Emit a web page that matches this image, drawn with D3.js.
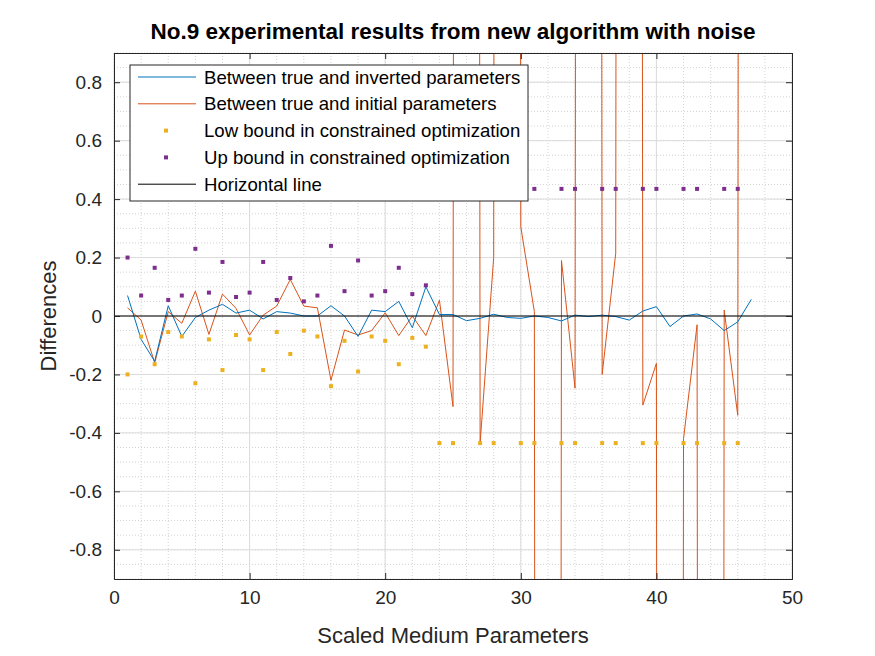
<!DOCTYPE html>
<html><head><meta charset="utf-8">
<script src="https://cdn.jsdelivr.net/npm/d3@7"></script>
<style>body{margin:0;background:#fff}svg{font-family:"Liberation Sans",Arial,sans-serif}</style>
</head><body><svg width="875" height="656"></svg>
<script>
// values
var idx = d3.range(1, 48);
var inverted = [0.07,-0.08,-0.155,0.035,-0.07,-0.005,0.02,0.04,0.01,0.02,-0.01,0.015,0.01,0.0,0.0,0.035,0.0,-0.07,0.02,0.015,0.05,-0.04,0.1,
  0.005,0.005,-0.016,-0.008,0.006,-0.005,-0.008,0.0,-0.005,-0.017,0.003,-0.002,0.003,-0.002,-0.014,0.017,0.032,-0.036,0.0,0.007,-0.01,-0.05,-0.02,0.057];
var initial = [0.028,-0.014,-0.16,0.015,-0.025,0.085,-0.063,0.075,0.026,-0.065,0.003,0.034,0.125,0.034,0.028,-0.22,-0.048,-0.065,-0.05,0.011,-0.067,0.0,-0.067,
  0.054,-0.31,40,-0.435,0.2,40,0.305,0.015,-40,0.19,-0.247,40,-0.2,0.215,40,-0.305,-0.162,-40,-0.42,-0.03,-40,0.02,-0.34,40];
var boundIdx = d3.range(1, 24).concat([24,25,27,28,30,31,33,34,36,37,39,40,42,43,45,46]);
var upBound = [0.2,0.07,0.165,0.055,0.07,0.23,0.08,0.185,0.065,0.08,0.185,0.055,0.13,0.05,0.07,0.24,0.085,0.19,0.07,0.085,0.165,0.075,0.105,
  0.435,0.435,0.435,0.435,0.435,0.435,0.435,0.435,0.435,0.435,0.435,0.435,0.435,0.435,0.435,0.435];
var lowBound = upBound.map(function(v){ return -v; });
var xTicks = [0,10,20,30,40,50];
var yTicks = [-0.8,-0.6,-0.4,-0.2,0,0.2,0.4,0.6,0.8];
var legendLabels = ["Between true and inverted parameters","Between true and initial parameters",
  "Low bound in constrained optimization","Up bound in constrained optimization","Horizontal line"];
var colors = ["#0072BD","#D95319","#EDB120","#7E2F8E","#000000"];

var svg = d3.select("svg");
var L = 114, R = 792, T = 53, B = 579;
var x = d3.scaleLinear().domain([0,50]).range([L,R]);
var y = d3.scaleLinear().domain([-0.9,0.9]).range([B,T]);

// grid
var g = svg.append("g");
g.selectAll(".mx").data(d3.range(0,51,2)).enter().append("line")
  .attr("x1",x).attr("x2",x).attr("y1",T).attr("y2",B)
  .attr("stroke","#c8c8c8").attr("stroke-dasharray","1,2").attr("stroke-width",0.8);
g.selectAll(".my").data(d3.range(-18,19).map(function(i){return i*0.05;})).enter().append("line")
  .attr("y1",y).attr("y2",y).attr("x1",L).attr("x2",R)
  .attr("stroke","#c8c8c8").attr("stroke-dasharray","1,2").attr("stroke-width",0.8);
g.selectAll(".gx").data(xTicks).enter().append("line")
  .attr("x1",x).attr("x2",x).attr("y1",T).attr("y2",B).attr("stroke","#dcdcdc");
g.selectAll(".gy").data(yTicks).enter().append("line")
  .attr("y1",y).attr("y2",y).attr("x1",L).attr("x2",R).attr("stroke","#dcdcdc");

svg.append("clipPath").attr("id","clip").append("rect")
  .attr("x",L).attr("y",T).attr("width",R-L).attr("height",B-T);
var plot = svg.append("g").attr("clip-path","url(#clip)");

var line = d3.line().x(function(d){return x(d[0]);}).y(function(d){return y(d[1]);});
plot.append("path").datum(idx.map(function(d,i){return [d,initial[i]];}))
  .attr("d",line).attr("fill","none").attr("stroke",colors[1]).attr("stroke-width",1);
plot.append("path").datum(idx.map(function(d,i){return [d,inverted[i]];}))
  .attr("d",line).attr("fill","none").attr("stroke",colors[0]).attr("stroke-width",1);
plot.selectAll(".lo").data(boundIdx).enter().append("rect")
  .attr("x",function(d){return x(d)-2;}).attr("y",function(d,i){return y(lowBound[i])-2;})
  .attr("width",4).attr("height",4).attr("fill",colors[2]);
plot.selectAll(".up").data(boundIdx).enter().append("rect")
  .attr("x",function(d){return x(d)-2;}).attr("y",function(d,i){return y(upBound[i])-2;})
  .attr("width",4).attr("height",4).attr("fill",colors[3]);
plot.append("line").attr("x1",L).attr("x2",R).attr("y1",y(0)).attr("y2",y(0))
  .attr("stroke","#000").attr("stroke-width",1);

// axes
var ax = svg.append("g").attr("transform","translate(0,"+B+")")
  .call(d3.axisBottom(x).tickValues(xTicks).tickSize(-6).tickPadding(12));
var ax2 = svg.append("g").attr("transform","translate(0,"+T+")")
  .call(d3.axisTop(x).tickValues(xTicks).tickSize(-6).tickFormat(""));
var ay = svg.append("g").attr("transform","translate("+L+",0)")
  .call(d3.axisLeft(y).tickValues(yTicks).tickSize(-6).tickPadding(12).tickFormat(function(d){return d===0?"0":d.toFixed(1);}));
var ay2 = svg.append("g").attr("transform","translate("+R+",0)")
  .call(d3.axisRight(y).tickValues(yTicks).tickSize(-6).tickFormat(""));
[ax,ax2,ay,ay2].forEach(function(a){
  a.selectAll("path").attr("stroke","#262626");
  a.selectAll("line").attr("stroke","#262626");
  a.selectAll("text").attr("font-size",19).attr("fill","#262626").attr("font-family","Liberation Sans, Arial");
});

svg.append("text").attr("x",453).attr("y",39).attr("text-anchor","middle")
  .attr("font-size",22.5).attr("font-weight","bold").text("No.9 experimental results from new algorithm with noise");
svg.append("text").attr("x",(L+R)/2).attr("y",643).attr("text-anchor","middle")
  .attr("font-size",22).attr("fill","#262626").text("Scaled Medium Parameters");
svg.append("text").attr("transform","translate(56,"+((T+B)/2)+") rotate(-90)").attr("text-anchor","middle")
  .attr("font-size",22).attr("fill","#262626").text("Differences");

// legend
var lg = svg.append("g");
lg.append("rect").attr("x",130).attr("y",65).attr("width",398).attr("height",136)
  .attr("fill","#fff").attr("stroke","#262626").attr("stroke-width",1);
legendLabels.forEach(function(t,i){
  var yy = 77 + i*26.8;
  if (i===2 || i===3) {
    lg.append("rect").attr("x",164).attr("y",yy-2).attr("width",4).attr("height",4).attr("fill",colors[i]);
  } else {
    lg.append("line").attr("x1",138).attr("x2",196).attr("y1",yy).attr("y2",yy).attr("stroke",colors[i]);
  }
  lg.append("text").attr("x",204).attr("y",yy+6.5).attr("font-size",18.6).attr("fill","#000").text(t);
});
</script></body></html>
